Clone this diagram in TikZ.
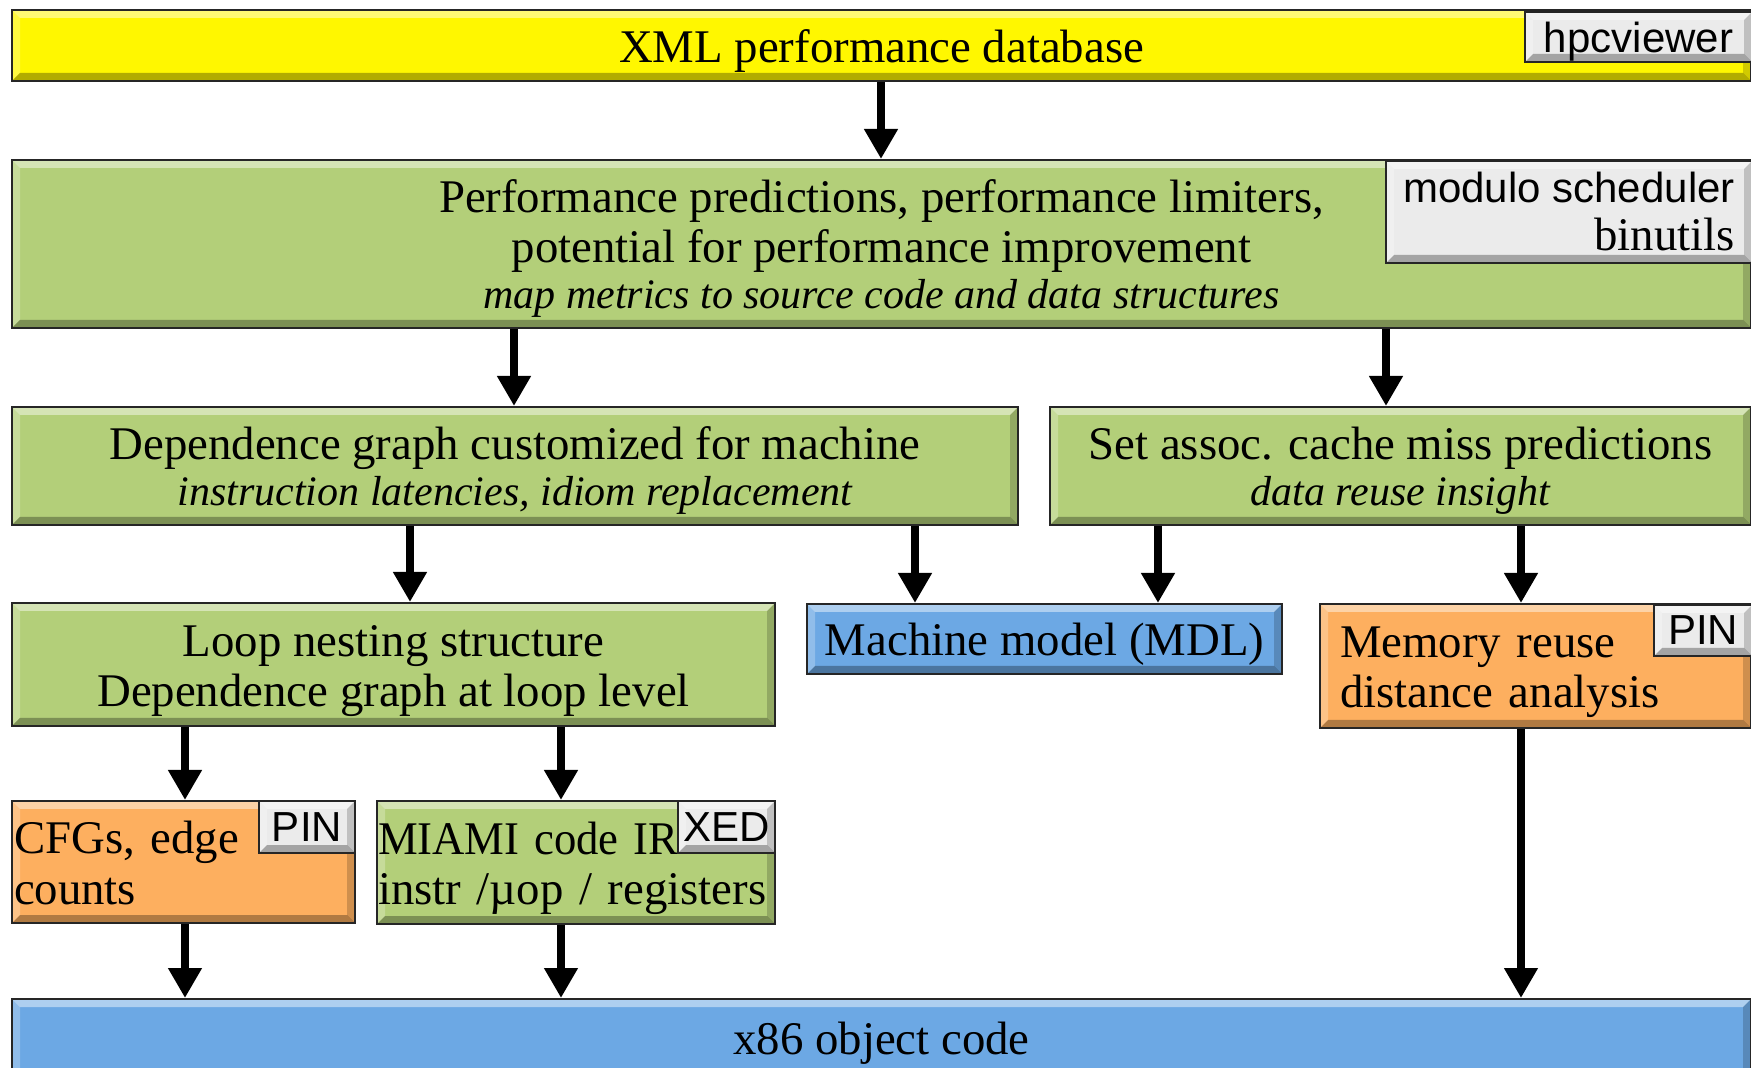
\documentclass[tikz,border=0pt]{standalone}
\usepackage{fontspec}
\setmainfont{Liberation Serif}
\setsansfont{Liberation Sans}
\usetikzlibrary{arrows.meta,calc}
\definecolor{cyel}{HTML}{FFF700}
\definecolor{cgrn}{HTML}{B3CF79}
\definecolor{cblu}{HTML}{6CA8E4}
\definecolor{corg}{HTML}{FDAF5F}
\definecolor{cgry}{HTML}{EBEBEB}
\newcommand\mainfs{\fontsize{23.4}{25}\selectfont}
\newcommand\itfs{\fontsize{21}{23}\selectfont\itshape}
\newcommand\labfs{\sffamily\fontsize{21}{24}\selectfont}
\newcommand\topstrut{\rule{0pt}{22pt}}
\tikzset{
  bevel/.style={path picture={
    \coordinate (pA) at (path picture bounding box.north west);
    \coordinate (pB) at (path picture bounding box.north east);
    \coordinate (pC) at (path picture bounding box.south east);
    \coordinate (pD) at (path picture bounding box.south west);
    \fill[white,opacity=.45] (pA) -- (pB) -- ([shift={(-4pt,-4pt)}]pB) -- ([shift={(4pt,-4pt)}]pA) -- cycle;
    \fill[white,opacity=.25] (pA) -- ([shift={(4pt,-4pt)}]pA) -- ([shift={(4pt,4pt)}]pD) -- (pD) -- cycle;
    \fill[black,opacity=.30] (pD) -- (pC) -- ([shift={(-4pt,4pt)}]pC) -- ([shift={(4pt,4pt)}]pD) -- cycle;
    \fill[black,opacity=.18] (pB) -- (pC) -- ([shift={(-4pt,4pt)}]pC) -- ([shift={(-4pt,-4pt)}]pB) -- cycle;
  }},
  frame/.style={draw=black!85, line width=1pt, fill=#1, anchor=north west,
    inner sep=0pt, align=center, bevel},
  box/.style={frame=#1, font=\mainfs,
    execute at begin node={\rule{0pt}{22pt}},
    execute at end node={\rule[-5pt]{0pt}{5pt}}},
  tag/.style={frame=cgry, font=\labfs},
  arr/.style={line width=4pt, -{Triangle[width=16pt,length=15pt]}},
}
\begin{document}
\begin{tikzpicture}[x=0.5pt,y=-0.5pt]
\fill[white] (0,0) rectangle (1751,1068);
\useasboundingbox (0,0) rectangle (1751,1068);

% main boxes
\node[box=cyel, minimum width=869.5pt, minimum height=35.5pt] (xml) at (11,9) {XML performance database};
\node[box=cgrn, minimum width=869.5pt, minimum height=84pt] (perf) at (11,159)
  {\topstrut Performance predictions, performance limiters,\\
   potential for performance improvement\\[-2pt]
   {\itfs map metrics to source code and data structures}};
\node[box=cgrn, minimum width=503pt, minimum height=59pt] (dep) at (11,406)
  {\topstrut Dependence graph customized for machine\\[-2pt]
   {\itfs instruction latencies, idiom replacement}};
\node[box=cgrn, minimum width=350.5pt, minimum height=59pt] (cache) at (1049,406)
  {\topstrut Set assoc. cache miss predictions\\[-2pt]
   {\itfs data reuse insight}};
\node[box=cgrn, minimum width=381.5pt, minimum height=61.5pt] (loop) at (11,602)
  {\topstrut Loop nesting structure\\ Dependence graph at loop level};
\node[box=cblu, minimum width=237.5pt, minimum height=35pt] (mach) at (806,603)
  {Machine model (MDL)};
\node[box=corg, align=left, inner xsep=10pt, text width=195.5pt, minimum height=62pt] (mem) at (1319,603)
  {Memory reuse\\ distance analysis};
\node[box=corg, align=left, inner xsep=1pt, text width=169.5pt, minimum height=61pt] (cfg) at (11,800)
  {CFGs, edge\\ counts};
\node[box=cgrn, align=left, inner xsep=0.5pt, text width=198pt, minimum height=61.5pt] (miami) at (376,800)
  {\scalebox{0.955}[1]{MIAMI code IR}\\ instr /µop / registers};
\node[box=cblu, minimum width=869.5pt, minimum height=38.5pt] (x86) at (11,998)
  {x86 object code};

% tags
\node[tag, minimum width=113.5pt, minimum height=25pt, text depth=0pt] (hpc) at (1524,11) {hpcviewer};
\node[tag, align=right, minimum width=183pt, minimum height=51pt] (modsch) at (1385,160)
  {modulo scheduler\\ {\rmfamily\mainfs binutils}};
\node[tag, minimum width=48pt, minimum height=26pt] (pin1) at (258,800) {PIN};
\node[tag, minimum width=48.5pt, minimum height=26pt] (xed) at (677,800) {XED};
\node[tag, minimum width=49pt, minimum height=25.5pt] (pin2) at (1653,604) {PIN};

% arrows
\draw[arr] ($(xml.south west)+(870,0)$) -- ($(perf.north west)+(870,0)$);
\draw[arr] ($(perf.south west)+(503,0)$) -- ($(dep.north west)+(503,0)$);
\draw[arr] ($(perf.south west)+(1375,0)$) -- ($(cache.north west)+(337,0)$);
\draw[arr] ($(dep.south west)+(399,0)$) -- ($(loop.north west)+(399,0)$);
\draw[arr] ($(dep.south west)+(904,0)$) -- ($(mach.north west)+(109,0)$);
\draw[arr] ($(cache.south west)+(109,0)$) -- ($(mach.north west)+(352,0)$);
\draw[arr] ($(cache.south west)+(472,0)$) -- ($(mem.north west)+(202,0)$);
\draw[arr] ($(loop.south west)+(174,0)$) -- ($(cfg.north west)+(174,0)$);
\draw[arr] ($(loop.south west)+(550,0)$) -- ($(miami.north west)+(185,0)$);
\draw[arr] ($(cfg.south west)+(174,0)$) -- ($(x86.north west)+(174,0)$);
\draw[arr] ($(miami.south west)+(185,0)$) -- ($(x86.north west)+(550,0)$);
\draw[arr] ($(mem.south west)+(202,0)$) -- ($(x86.north west)+(1510,0)$);
\end{tikzpicture}
\end{document}
